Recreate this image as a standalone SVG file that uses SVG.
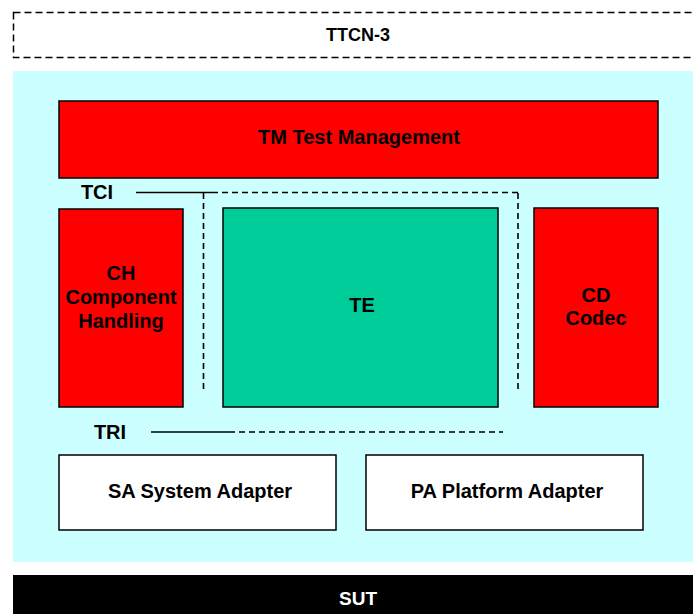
<svg xmlns="http://www.w3.org/2000/svg" width="693" height="614" viewBox="0 0 693 614">
<style>
text{font-family:"Liberation Sans",Arial,sans-serif;font-weight:bold;font-size:20px;fill:#000;text-anchor:middle}
.box{stroke:#000;stroke-width:1.5}
.red{fill:#FF0000}
.dash{fill:none;stroke:#000;stroke-width:1.6;stroke-dasharray:6,4}
.solid{fill:none;stroke:#000;stroke-width:1.5}
</style>
<rect width="693" height="614" fill="#fff"/>
<g id="ttcn3">
<rect x="13.5" y="12.5" width="690" height="45" fill="none" stroke="#000" stroke-width="1.5" stroke-dasharray="7,4"/>
<text x="358" y="41" style="font-size:18px">TTCN-3</text>
</g>
<g id="area"><rect x="13" y="71" width="680" height="491" fill="#CCFFFF"/></g>
<g id="tm">
<rect class="box red" x="59" y="101" width="599" height="77"/>
<text x="359" y="144">TM Test Management</text>
</g>
<g id="ch">
<rect class="box red" x="59" y="209" width="124" height="198"/>
<text x="121" y="280">CH</text>
<text x="121" y="304">Component</text>
<text x="121" y="328">Handling</text>
</g>
<g id="te">
<rect class="box" fill="#00CC99" x="223" y="208" width="275" height="199"/>
<text x="362" y="312">TE</text>
</g>
<g id="cd">
<rect class="box red" x="534" y="208" width="124" height="199"/>
<text x="596" y="302">CD</text>
<text x="596" y="325">Codec</text>
</g>
<g id="sa">
<rect class="box" fill="#fff" x="59" y="455" width="277" height="75"/>
<text x="200" y="498">SA System Adapter</text>
</g>
<g id="pa">
<rect class="box" fill="#fff" x="366" y="455" width="277" height="75"/>
<text x="507" y="498">PA Platform Adapter</text>
</g>
<g id="sut">
<rect x="13" y="575" width="680" height="39" fill="#000"/>
<text x="358" y="605" style="fill:#fff;font-size:19px">SUT</text>
</g>
<g id="tci"><text x="97" y="199">TCI</text></g>
<g id="tri"><text x="110" y="439">TRI</text></g>
<g id="connectors">
<line class="solid" x1="136" y1="192.5" x2="212" y2="192.5"/>
<line class="dash" x1="212" y1="192.5" x2="518" y2="192.5"/>
<line class="dash" x1="203.5" y1="193" x2="203.5" y2="393"/>
<line class="dash" x1="518" y1="193" x2="518" y2="393"/>
<line class="solid" x1="151" y1="432" x2="229" y2="432"/>
<line class="dash" x1="229" y1="432" x2="503" y2="432"/>
</g>
</svg>
